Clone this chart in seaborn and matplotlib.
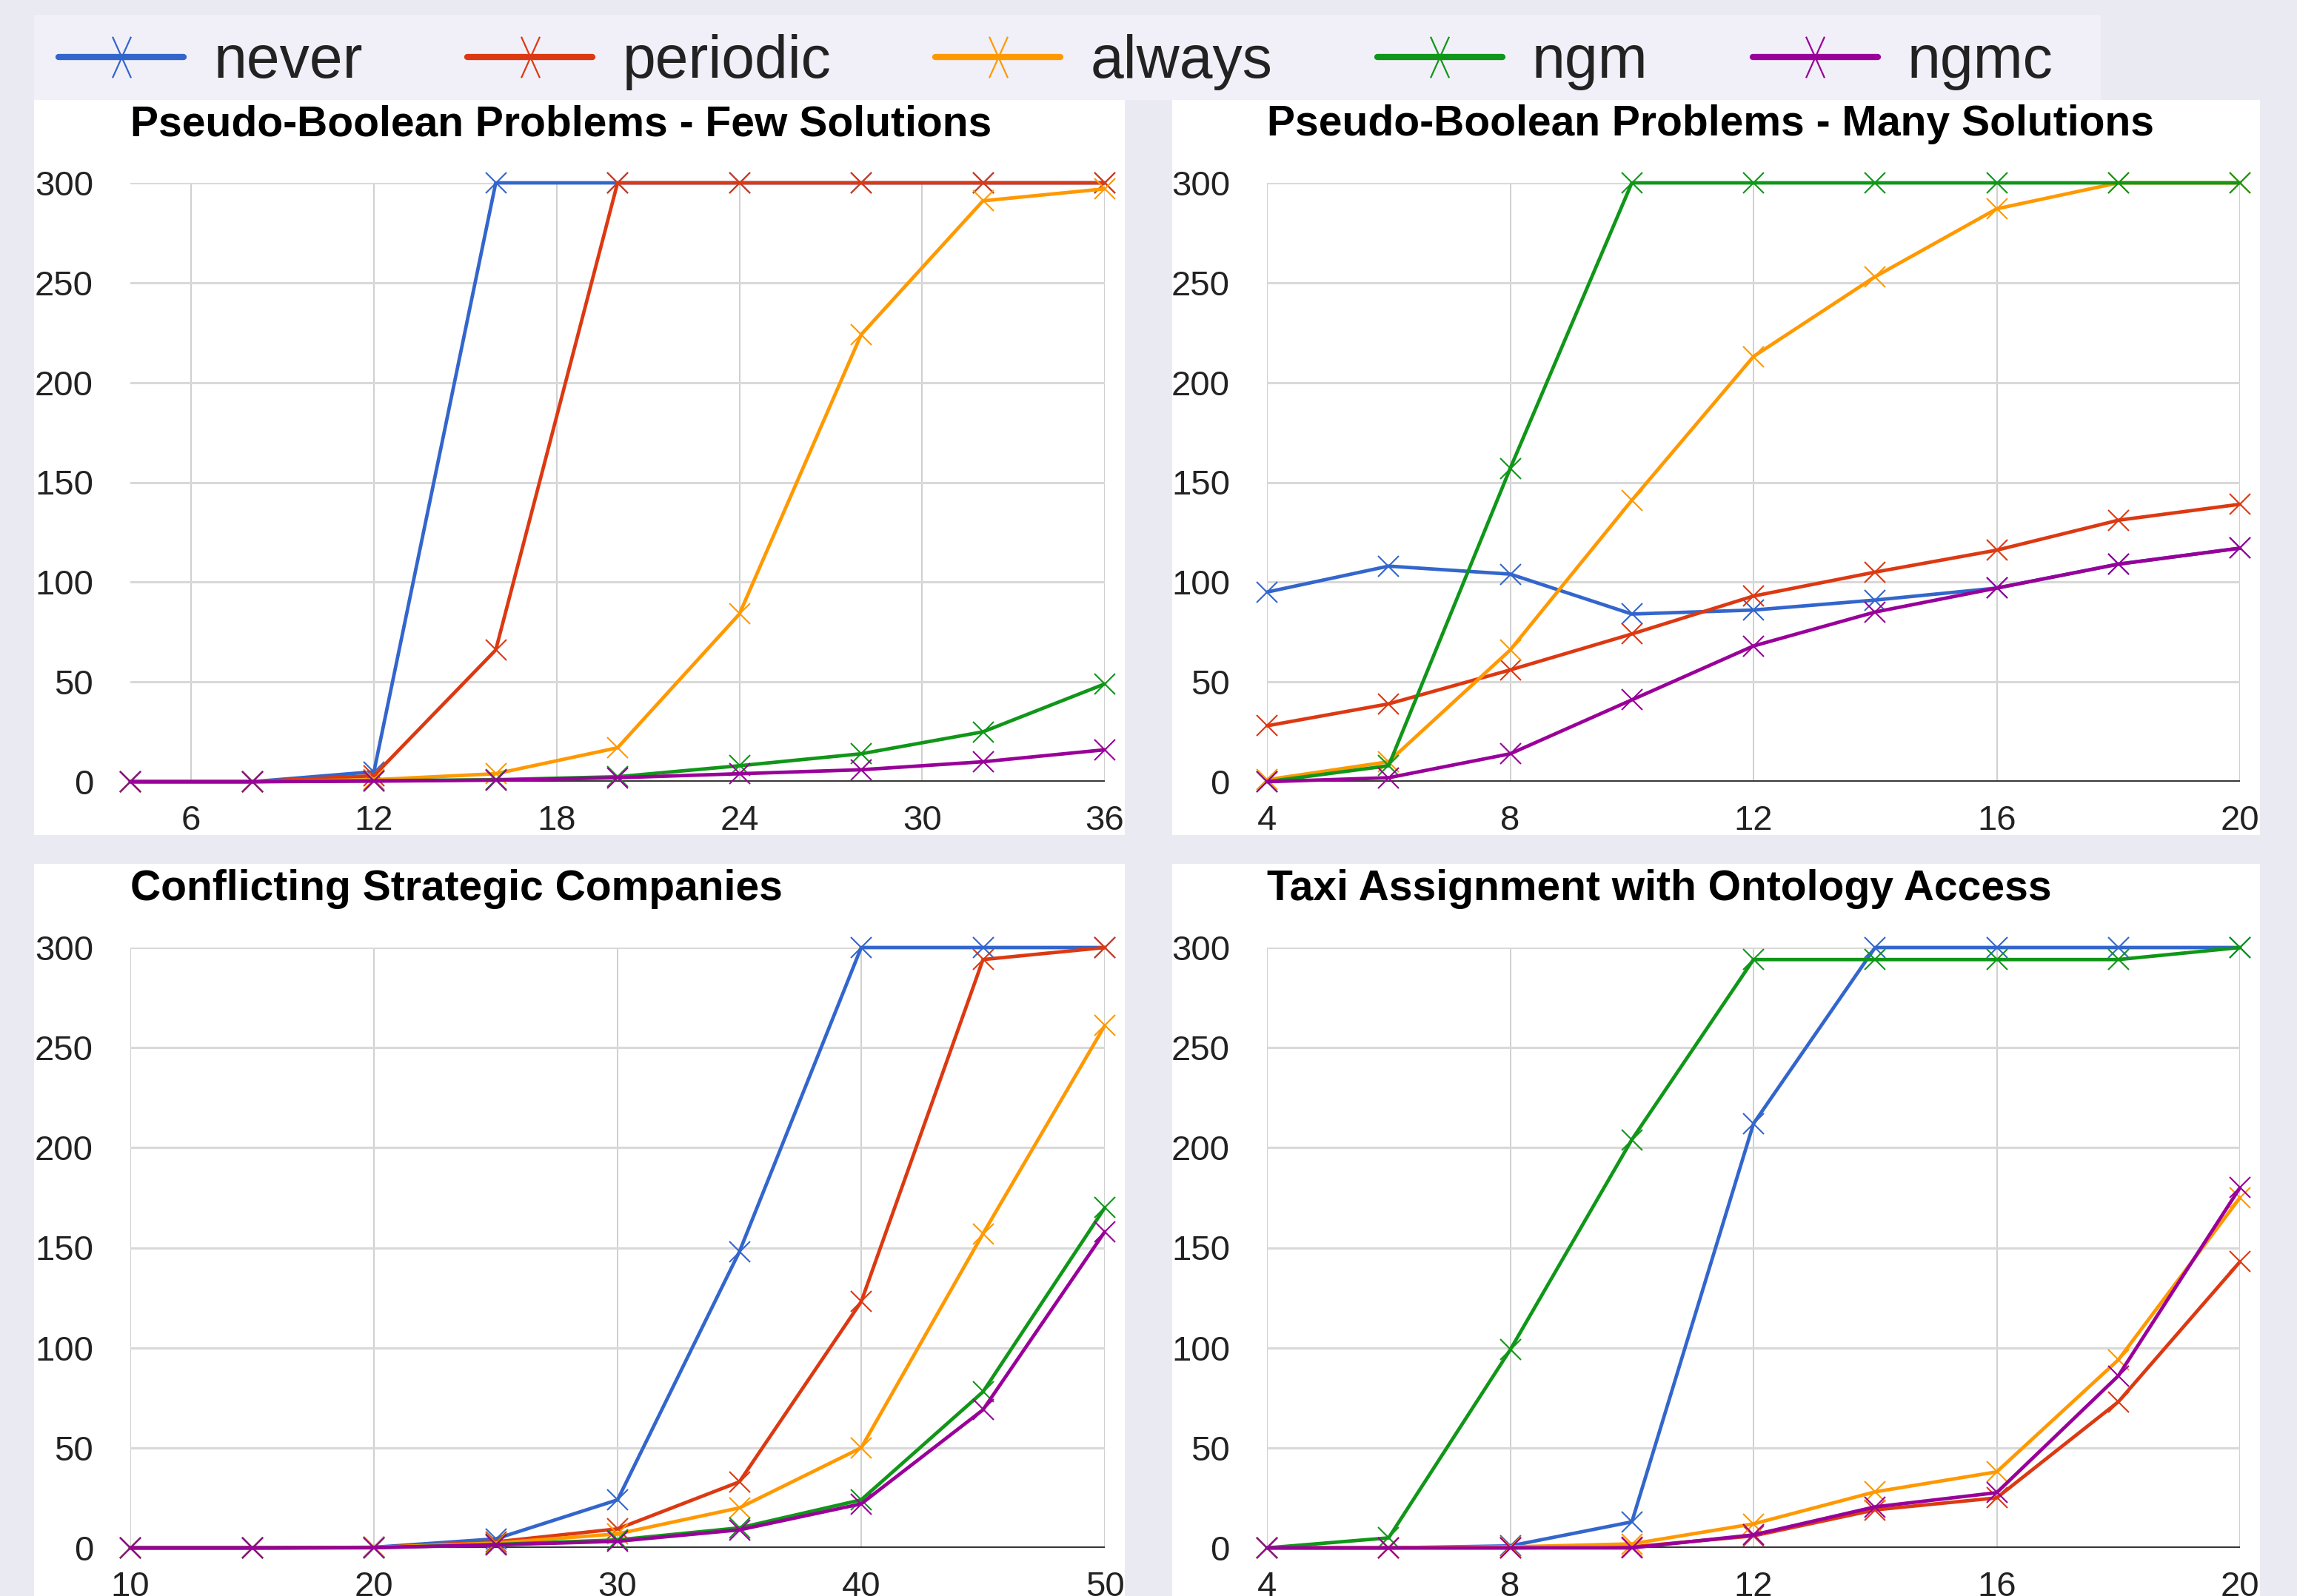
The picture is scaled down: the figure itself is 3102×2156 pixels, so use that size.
import numpy as np
import pandas as pd
import matplotlib
matplotlib.use('Agg')
import matplotlib.pyplot as plt
from matplotlib.patches import Rectangle
from matplotlib.path import Path
import seaborn as sns

# strategies and colours
strategies = ["never", "periodic", "always", "ngm", "ngmc"]
colors = ["#3366cc", "#dc3912", "#ff9900", "#109618", "#990099"]

# Pseudo-Boolean Problems - Few Solutions
pbf_x = [4, 8, 12, 16, 20, 24, 28, 32, 36]
pbf_never = [0, 0, 5, 300, 300, 300, 300, 300, 300]
pbf_periodic = [0, 0, 3, 66, 300, 300, 300, 300, 300]
pbf_always = [0, 0, 1, 4, 17, 84, 224, 291, 297]
pbf_ngm = [0, 0, 0.5, 1, 2.5, 8, 14, 25, 49]
pbf_ngmc = [0, 0, 0.3, 0.8, 2, 4, 6, 10, 16]

# Pseudo-Boolean Problems - Many Solutions
pbm_x = [4, 6, 8, 10, 12, 14, 16, 18, 20]
pbm_never = [95, 108, 104, 84, 86, 91, 97, 109, 117]
pbm_periodic = [28, 39, 56, 74, 93, 105, 116, 131, 139]
pbm_always = [1, 10, 66, 141, 213, 253, 287, 300, 300]
pbm_ngm = [0, 8, 157, 300, 300, 300, 300, 300, 300]
pbm_ngmc = [0, 2, 14, 41, 68, 85, 97, 109, 117]

# Conflicting Strategic Companies
csc_x = [10, 15, 20, 25, 30, 35, 40, 45, 50]
csc_never = [0, 0, 0.3, 4.5, 24, 148, 300, 300, 300]
csc_periodic = [0, 0, 0.2, 3, 9.5, 33, 123, 294, 300]
csc_always = [0, 0, 0.2, 2.4, 7, 20, 50, 157, 261]
csc_ngm = [0, 0, 0.1, 1.7, 4, 10, 24, 78, 170]
csc_ngmc = [0, 0, 0.1, 1.5, 3.3, 9, 22, 69, 158]

# Taxi Assignment with Ontology Access
taxi_x = [4, 6, 8, 10, 12, 14, 16, 18, 20]
taxi_never = [0, 0, 1, 13, 212, 300, 300, 300, 300]
taxi_periodic = [0, 0, 0, 0.5, 6, 19, 25, 73, 143]
taxi_always = [0, 0, 0.5, 2, 12, 28, 38, 94, 175]
taxi_ngm = [0, 5, 99, 204, 294, 294, 294, 294, 300]
taxi_ngmc = [0, 0, 0, 0, 6.5, 20.5, 27.6, 86, 180]

y_ticks = [0, 50, 100, 150, 200, 250, 300]


def long_form(x, series):
    rows = []
    for name, vals in zip(strategies, series):
        for xi, yi in zip(x, vals):
            rows.append({"size": xi, "time": yi, "strategy": name})
    return pd.DataFrame(rows)


panels = [
    ("Pseudo-Boolean Problems - Few Solutions",
     long_form(pbf_x, [pbf_never, pbf_periodic, pbf_always, pbf_ngm, pbf_ngmc]),
     (4, 36), [6, 12, 18, 24, 30, 36]),
    ("Pseudo-Boolean Problems - Many Solutions",
     long_form(pbm_x, [pbm_never, pbm_periodic, pbm_always, pbm_ngm, pbm_ngmc]),
     (4, 20), [4, 8, 12, 16, 20]),
    ("Conflicting Strategic Companies",
     long_form(csc_x, [csc_never, csc_periodic, csc_always, csc_ngm, csc_ngmc]),
     (10, 50), [10, 20, 30, 40, 50]),
    ("Taxi Assignment with Ontology Access",
     long_form(taxi_x, [taxi_never, taxi_periodic, taxi_always, taxi_ngm, taxi_ngmc]),
     (4, 20), [4, 8, 12, 16, 20]),
]

sns.set_theme(style="white")
plt.rcParams['font.family'] = ['Liberation Sans', 'DejaVu Sans']

W, H = 3102, 2156
fig = plt.figure(figsize=(W / 100, H / 100), dpi=100, facecolor="#eaeaf2")

# pixel boxes: (left, top, right, bottom)
panel_boxes = [(46, 135, 1519, 1128), (1583, 135, 3052, 1128),
               (46, 1167, 1519, 2160), (1583, 1167, 3052, 2160)]
plot_boxes = [(176, 247, 1492, 1056), (1711, 247, 3025, 1056),
              (176, 1280, 1492, 2091), (1711, 1280, 3025, 2091)]

# legend strip
fig.add_artist(Rectangle((46 / W, 1 - 135 / H), (2837 - 46) / W, (135 - 20) / H,
                         transform=fig.transFigure, facecolor="#f1f0f8",
                         edgecolor="none", zorder=-1))

palette = dict(zip(strategies, colors))
axes = []
for (title, df, xlim, xticks), pb, bb in zip(panels, panel_boxes, plot_boxes):
    fig.add_artist(Rectangle((pb[0] / W, 1 - pb[3] / H), (pb[2] - pb[0]) / W, (pb[3] - pb[1]) / H,
                             transform=fig.transFigure, facecolor="white",
                             edgecolor="none", zorder=-1))
    ax = fig.add_axes([bb[0] / W, 1 - bb[3] / H, (bb[2] - bb[0]) / W, (bb[3] - bb[1]) / H])
    ax.set_facecolor("white")
    sns.lineplot(data=df, x="size", y="time", hue="strategy", hue_order=strategies,
                 palette=palette, marker="x", markersize=20, markeredgewidth=1.5,
                 linewidth=3.4, errorbar=None, legend=False, ax=ax, clip_on=False, zorder=3)
    # seaborn paints marker edges white; give them the line colour
    for ln in ax.get_lines():
        ln.set_markeredgecolor(ln.get_color())
        ln.set_markerfacecolor(ln.get_color())
    ax.axhline(0, color="#333333", lw=2.8, zorder=2)
    ax.set_xlim(*xlim)
    ax.set_ylim(0, 300)
    ax.set_xticks(xticks)
    ax.set_yticks(y_ticks)
    ax.grid(axis="x", color="#cccccc", lw=1.3)
    ax.grid(axis="y", color="#d9d9d9", lw=2.2)
    ax.set_axisbelow(True)
    for s in ax.spines.values():
        s.set_visible(False)
    ax.tick_params(axis="both", length=0, labelsize=34, labelcolor="#222222")
    ax.tick_params(axis="y", pad=36)
    ax.tick_params(axis="x", pad=22)
    ax.set_xlabel("")
    ax.set_ylabel("")
    ax.set_title(title, loc="left", fontsize=41, fontweight="bold", pad=46, color="black")
    axes.append(ax)

# narrow, tall x for the legend keys
narrow_x = Path([(-0.45, -1), (0.45, 1), (-0.45, 1), (0.45, -1)],
                [Path.MOVETO, Path.LINETO, Path.MOVETO, Path.LINETO])
handles = [plt.Line2D([], [], color=c, lw=6, marker=narrow_x, markersize=40,
                      markeredgewidth=1.6, markerfacecolor="none") for c in colors]
leg = fig.legend(handles, strategies, loc="center left",
                 bbox_to_anchor=(79 / W, 1 - 84 / H), ncol=5, frameon=False,
                 fontsize=58, handlelength=2.1, handletextpad=0.5,
                 columnspacing=1.75, borderpad=0, borderaxespad=0)
for t in leg.get_texts():
    t.set_color("#222222")

fig.savefig("out.png", dpi=100, facecolor=fig.get_facecolor())
